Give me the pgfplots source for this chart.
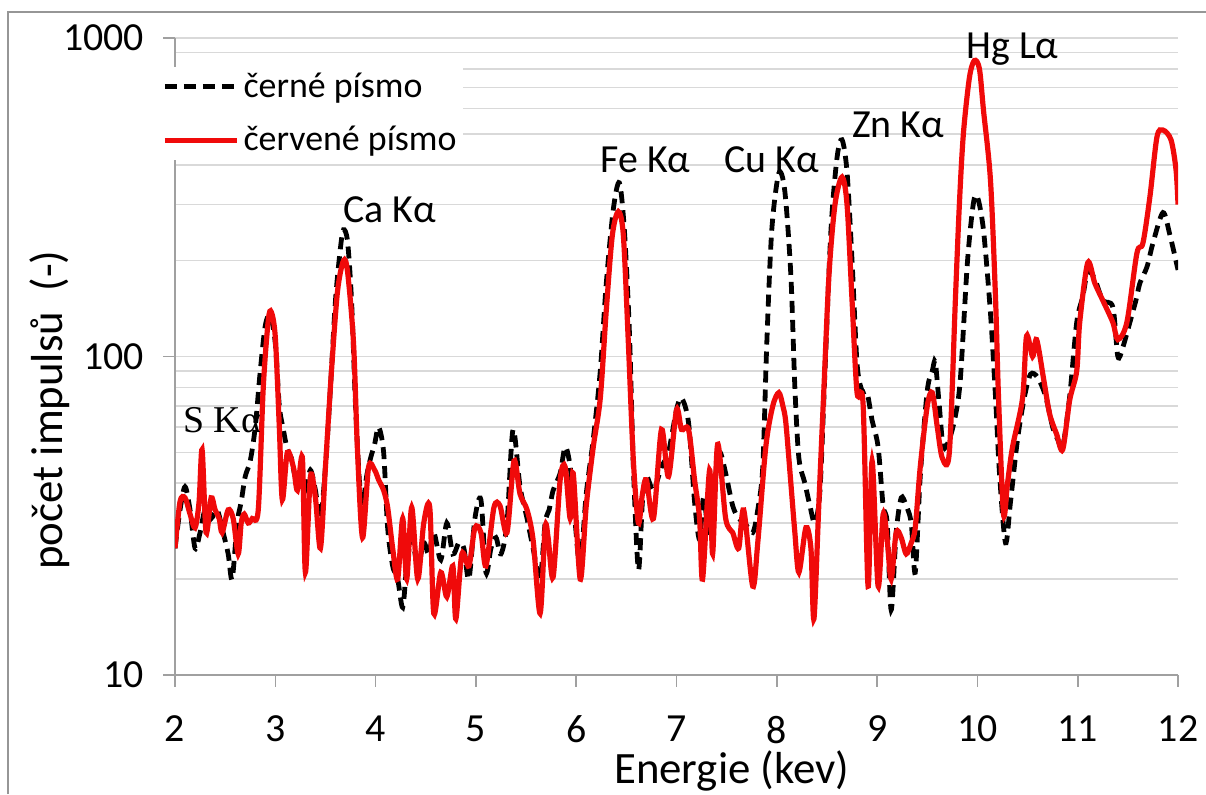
\documentclass[border=0pt]{standalone}
\usepackage{pgfplots}
\pgfplotsset{compat=1.18}
\usepackage{fontspec}
\setmainfont{Carlito}
\newfontfamily\seriffont{Liberation Serif}

\definecolor{gridgray}{RGB}{217,217,217}
\definecolor{axisgray}{RGB}{160,160,160}
\definecolor{framegray}{RGB}{150,150,150}
\definecolor{xrfred}{RGB}{240,10,10}

\begin{document}
\begin{tikzpicture}[x=1bp,y=1bp]
\useasboundingbox (0,0) rectangle (603,397);
\draw[framegray, line width=1bp] (4,0) -- (4,391) -- (603,391);

\begin{axis}[
at={(87.5bp,59.5bp)}, anchor=south west,
scale only axis, width=501.5bp, height=318.5bp,
ymode=log,
xmin=2, xmax=12, ymin=10, ymax=1000,
xtick={2,3,4,5,6,7,8,9,10,11,12},
ytick={10,100,1000}, yticklabels={10,100,1000},
axis x line*=bottom, axis y line*=left,
axis line style={axisgray, line width=0.8bp},
tick align=outside,
major tick length=6bp, minor tick length=0bp,
tick style={axisgray, line width=0.8bp},
ymajorgrids, yminorgrids,
major grid style={gridgray, line width=0.8bp},
minor grid style={gridgray, line width=0.8bp},
/pgf/number format/assume math mode=true,
ticklabel style={font=\fontsize{20}{24}\selectfont},
yticklabel style={xshift=-6bp},
xticklabel style={yshift=-11bp},
xlabel={Energie (kev)},
ylabel={počet impulsů~~(-)},
label style={font=\fontsize{22.5}{27}\selectfont},
xlabel style={at={(axis description cs:0.555,-0.1696)}, anchor=base},
ylabel style={at={(axis description cs:-0.1117,0.416)}, anchor=base},
legend cell align=left,
legend style={at={(-0.015,0.955)}, anchor=north west, draw=none, fill=white,
  font=\fontsize{18}{22}\selectfont, row sep=9bp, inner sep=1bp},
legend image code/.code={\draw[#1] (0bp,0bp) -- (36bp,0bp);},
clip mode=individual,
]

\addplot[black, line width=2.4bp, dash pattern=on 6bp off 3.5bp, smooth, tension=0.5] table {
2.00 25
2.05 33
2.10 39
2.15 33
2.20 25
2.25 28
2.30 33
2.36 31
2.42 33
2.48 28
2.53 24
2.57 20
2.62 30
2.66 35
2.70 42
2.75 47
2.80 60
2.85 90
2.90 125
2.95 135
3.00 110
3.04 70
3.08 59
3.12 51
3.16 48
3.20 42
3.25 44
3.30 38
3.35 44
3.40 38
3.45 31
3.50 45
3.55 80
3.60 150
3.65 220
3.68 250
3.72 230
3.76 150
3.80 70
3.84 40
3.87 34
3.91 42
3.95 48
3.99 53
4.03 60
4.08 50
4.12 29
4.17 22
4.22 20
4.27 16.3
4.31 22
4.36 27
4.42 22
4.48 26
4.53 24
4.58 28
4.65 23
4.71 30
4.77 24
4.83 26
4.88 25
4.93 20
4.99 31
5.05 35.5
5.10 21
5.15 25
5.20 27
5.25 24
5.31 30
5.37 59
5.44 39
5.51 31
5.57 25
5.64 20
5.69 30
5.73 33
5.77 38
5.84 43
5.89 52
5.94 45
5.99 30
6.04 22
6.10 37
6.17 55
6.24 90
6.30 170
6.37 290
6.43 351
6.48 250
6.53 120
6.57 45
6.62 21.4
6.66 35
6.70 42
6.77 38
6.85 45
6.92 50
7.00 68
7.05 74
7.12 62
7.18 35
7.23 26.6
7.27 36
7.33 27
7.38 40
7.43 50
7.49 43
7.56 34
7.62 31
7.68 30
7.76 28
7.81 33
7.86 45
7.90 110
7.95 250
8.02 376
8.08 330
8.14 180
8.18 80
8.22 48
8.28 40
8.33 34
8.38 30
8.43 38
8.48 90
8.54 250
8.60 420
8.65 479
8.70 380
8.75 200
8.80 95
8.85 78
8.90 77
8.95 63
9.01 52
9.06 34
9.10 30
9.14 16
9.19 28
9.24 36
9.29 34
9.34 30
9.38 21
9.43 42
9.50 78
9.55 90
9.58 96
9.62 70
9.66 52
9.72 55
9.78 65
9.83 85
9.90 197
9.96 303
10.00 317
10.06 250
10.13 137
10.18 75
10.22 43
10.28 26
10.33 35
10.40 55
10.47 75
10.53 88
10.60 86
10.68 75
10.75 60
10.80 55
10.85 52
10.92 75
10.99 128
11.05 154
11.10 185
11.17 175
11.25 150
11.35 143
11.40 100
11.45 107
11.52 128
11.58 150
11.62 170
11.69 191
11.75 227
11.85 283
11.92 240
12.00 187
};
\addlegendentry{černé písmo}

\addplot[xrfred, line width=2.6bp, smooth, tension=0.5] table {
2.00 25
2.05 35
2.10 36
2.15 32
2.20 29
2.24 35
2.27 51
2.31 28
2.36 36
2.40 33
2.44 31
2.47 28
2.53 33
2.58 31
2.63 24
2.66 30
2.69 32
2.73 30
2.77 31
2.83 33
2.88 80
2.93 130
2.96 138
3.00 115
3.04 60
3.07 35.5
3.12 50
3.18 45
3.22 38
3.27 48
3.30 21
3.35 42
3.40 36
3.45 25
3.50 45
3.56 90
3.62 160
3.68 200
3.72 185
3.78 110
3.82 50
3.87 27
3.93 45
3.99 44
4.03 41
4.08 38
4.12 33.6
4.17 25
4.22 20
4.27 31
4.31 20
4.36 33.6
4.42 20
4.48 30
4.54 33.6
4.58 15.6
4.65 21
4.71 17.6
4.77 22
4.80 15
4.86 24
4.93 22
4.99 29
5.05 28
5.10 22
5.18 33.6
5.24 34
5.31 28
5.38 47
5.44 37
5.51 33
5.57 26.6
5.64 15.6
5.69 29
5.72 27
5.77 20.3
5.84 41
5.89 45
5.94 31
5.97 43
6.04 20
6.10 34
6.17 52
6.24 74
6.30 140
6.36 240
6.42 285
6.47 240
6.52 110
6.57 47
6.62 30
6.66 37
6.70 41
6.77 31
6.85 59
6.92 42
7.00 68
7.05 59
7.12 59
7.18 41
7.23 31
7.26 20
7.33 44
7.36 24
7.41 53
7.49 31
7.56 28
7.62 25
7.67 33
7.76 19
7.81 26
7.89 52
7.96 70
8.02 77
8.06 70
8.09 62
8.14 40
8.18 28
8.22 21
8.29 29
8.34 25
8.37 15
8.42 35
8.47 80
8.52 180
8.58 300
8.65 366
8.70 300
8.75 150
8.80 77
8.86 71
8.91 19
8.95 47
9.01 19
9.06 32
9.10 26.6
9.14 20
9.19 28
9.24 27
9.29 24
9.34 26
9.38 29
9.43 45
9.50 70
9.55 77
9.60 60
9.65 48
9.72 50
9.78 150
9.82 300
9.86 500
9.92 750
9.97 850
10.02 800
10.06 595
10.13 358
10.18 154
10.21 75
10.26 32
10.30 40
10.35 52
10.45 74
10.49 116
10.55 100
10.59 113
10.66 85
10.72 66
10.79 57
10.85 51
10.92 73
10.99 90
11.02 128
11.10 197
11.17 170
11.25 150
11.35 128
11.40 113
11.49 128
11.59 211
11.65 227
11.72 318
11.79 489
11.85 514
11.93 479
11.98 386
12.00 300
};
\addlegendentry{červené písmo}

\begin{scope}[font=\fontsize{20}{24}\selectfont]
\node at (axis cs:2.47,63) {\fontsize{19}{23}\seriffont S Kα};
\node at (axis cs:4.14,288) {Ca Kα};
\node at (axis cs:6.69,414) {Fe Kα};
\node at (axis cs:7.95,414) {Cu Kα};
\node at (axis cs:9.21,533) {Zn Kα};
\node at (axis cs:10.35,920) {Hg Lα};
\end{scope}
\end{axis}
\end{tikzpicture}
\end{document}
